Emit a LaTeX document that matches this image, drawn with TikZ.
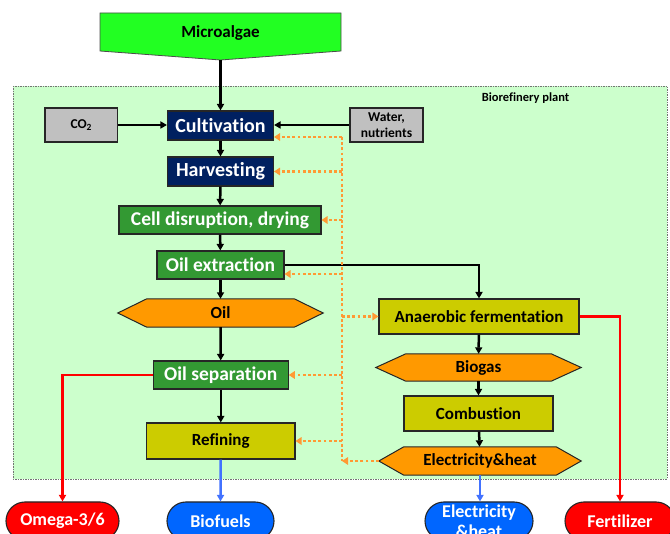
\documentclass[tikz,border=0pt]{standalone}
\usepackage{fontspec}
\setmainfont{Carlito}[RawFeature={-liga,-clig,-calt,-dlig}]
\usetikzlibrary{arrows.meta}
\definecolor{navyc}{RGB}{0,32,96}
\definecolor{greenc}{RGB}{51,153,51}
\definecolor{olivec}{RGB}{204,204,0}
\definecolor{grayc}{RGB}{192,192,192}
\definecolor{orngc}{RGB}{255,153,0}
\definecolor{dotc}{RGB}{255,153,51}
\definecolor{limec}{RGB}{34,255,34}
\definecolor{paleg}{RGB}{204,255,204}
\definecolor{redc}{RGB}{255,0,0}
\definecolor{bluec}{RGB}{0,102,255}
\definecolor{bluel}{RGB}{66,114,255}
\pgfdeclarelayer{bg}\pgfdeclarelayer{mid}\pgfsetlayers{bg,mid,main}
\newcommand\fs[1]{\bfseries\fontsize{#1}{#1}\selectfont}
\newcommand\hexshape[2]{\begin{pgfonlayer}{mid}\draw[hexline] (#1.west) -- ([xshift=#2]#1.north west) -- ([xshift=-#2]#1.north east) -- (#1.east) -- ([xshift=-#2]#1.south east) -- ([xshift=#2]#1.south west) -- cycle;\end{pgfonlayer}}
\tikzset{
  box/.style={draw=black!85, line width=1.1pt, inner sep=0pt, font=\fs{17}},
  navyb/.style={box, fill=navyc, text=white, font=\fs{20}},
  greenb/.style={box, fill=greenc, text=white, font=\fs{19.5}},
  oliveb/.style={box, fill=olivec},
  grayb/.style={box, fill=grayc, font=\bfseries\fontsize{13.5}{15.5}\selectfont, align=center},
  hexn/.style={inner sep=0pt, font=\fs{17}},
  hexline/.style={draw=black!85, line width=1pt, fill=orngc},
  outn/.style={draw=black!85, line width=1.1pt, rounded corners=19pt, minimum height=38pt, inner sep=0pt, text=white, align=center, font=\bfseries\fontsize{18}{20}\selectfont},
  arr/.style={-{Triangle[length=6.5pt,width=7pt]}, line width=2.5pt},
  redarr/.style={arr, draw=redc, color=redc},
  bluearr/.style={arr, draw=bluel, color=bluel},
  dotarr/.style={draw=dotc, color=dotc, line width=2.8pt, dash pattern=on 2.8pt off 2.4pt},
  dotarrow/.style={dotarr, -{Triangle[length=6pt,width=7.5pt]}},
}
\begin{document}
\begin{tikzpicture}[x=1pt,y=-1pt]
\useasboundingbox (0,0) rectangle (670,534);
% plant background
\begin{pgfonlayer}{bg}
\draw[fill=paleg, draw=black!55, line width=0.7pt, dash pattern=on 1.5pt off 1pt] (13,86) rectangle (667,479);
\end{pgfonlayer}
\node[font=\fs{12.5}] (plant) at (525.5,98) {Biorefinery plant};
% microalgae
\draw[fill=limec, draw=black!70, line width=0.8pt] (100,13) -- (341,13) -- (341,51) -- (220.5,60) -- (100,51) -- cycle;
\node[font=\fs{17}] (micro) at (220.5,33) {Microalgae};
\coordinate (mtip) at (220.5,60);
% left column
\node[grayb, minimum width=72.5pt, minimum height=34pt] (co2) at (81.25,125) {CO\textsubscript{2}};
\node[navyb, minimum width=106pt, minimum height=29pt] (cult) at (220.5,125.5) {Cultivation};
\node[grayb, minimum width=73pt, minimum height=34pt] (water) at (386.5,125) {Water,\\nutrients};
\node[navyb, minimum width=106pt, minimum height=29pt] (harv) at (220.5,171.5) {Harvesting};
\node[greenb, minimum width=202pt, minimum height=28pt] (cell) at (220,220) {Cell disruption, drying};
\node[greenb, minimum width=127pt, minimum height=28pt] (oilx) at (220.5,265) {Oil extraction};
\node[hexn, minimum width=205pt, minimum height=28pt] (oil) at (220.5,313) {Oil};
\hexshape{oil}{29pt}
\node[greenb, minimum width=135pt, minimum height=28pt] (oilsep) at (220.75,375) {Oil separation};
\node[oliveb, minimum width=148.5pt, minimum height=36pt] (refin) at (220.75,441) {Refining};
% right column
\node[oliveb, minimum width=200pt, minimum height=35pt] (anaer) at (479,316.5) {Anaerobic fermentation};
\node[hexn, minimum width=205pt, minimum height=27pt] (biogas) at (478.5,367.5) {Biogas};
\hexshape{biogas}{30pt}
\node[oliveb, minimum width=149pt, minimum height=35pt] (comb) at (478.5,413.5) {Combustion};
\node[hexn, minimum width=202pt, minimum height=28pt] (elec) at (480,461) {Electricity\&heat};
\hexshape{elec}{25pt}
% outputs
\node[outn, fill=redc, minimum width=113pt] (omega) at (62.5,521) {Omega-3/6};
\node[outn, fill=bluec, minimum width=107pt] (biof) at (220.5,521) {Biofuels};
\node[outn, fill=bluec, minimum width=108pt] (elecout) at (479,521) {Electricity\\[0pt]\&heat};
\node[outn, fill=redc, minimum width=110pt] (fert) at (620,521) {Fertilizer};
% black flow
\draw[arr] (mtip) -- (cult.north);
\draw[arr] (co2.east) -- (cult.west |- co2.east);
\draw[arr] (water.west) -- (cult.east |- water.west);
\draw[arr] (cult) -- (harv);
\draw[arr] (harv) -- (cell);
\draw[arr] (cell) -- (oilx);
\draw[arr] (oilx) -- (oil);
\draw[arr] (oil) -- (oilsep);
\draw[arr] (oilsep) -- (refin);
\draw[arr] (oilx.east) -| (anaer.north);
\draw[arr] (anaer) -- (biogas);
\draw[arr] (biogas) -- (comb);
\draw[arr] (comb) -- (elec);
% products
\draw[redarr] (oilsep.west) -| (omega.north);
\draw[redarr] (anaer.east) -| (fert.north);
\draw[bluearr] (refin.south) -- (biof.north);
\draw[bluearr] (elec.south) -- (elec.south |- elecout.north);
% energy recycling (orange dotted)
\coordinate (busT) at (342,137);
\coordinate (busB) at (342,461);
\coordinate (busO) at (342,274);
\draw[dotarr] (busT) -- (busB);
\draw[dotarrow] (busT) -- (cult.east |- busT);
\draw[dotarrow] (busT |- harv.east) -- (harv.east);
\draw[dotarrow] (busT |- cell.east) -- (cell.east);
\draw[dotarrow] (busO) -- (oilx.east |- busO);
\draw[dotarrow] (busT |- anaer.west) -- (anaer.west);
\draw[dotarrow] (busT |- oilsep.east) -- (oilsep.east);
\draw[dotarrow] (busT |- refin.east) -- (refin.east);
\draw[dotarrow] (elec.west) -- (busB);
\end{tikzpicture}
\end{document}
